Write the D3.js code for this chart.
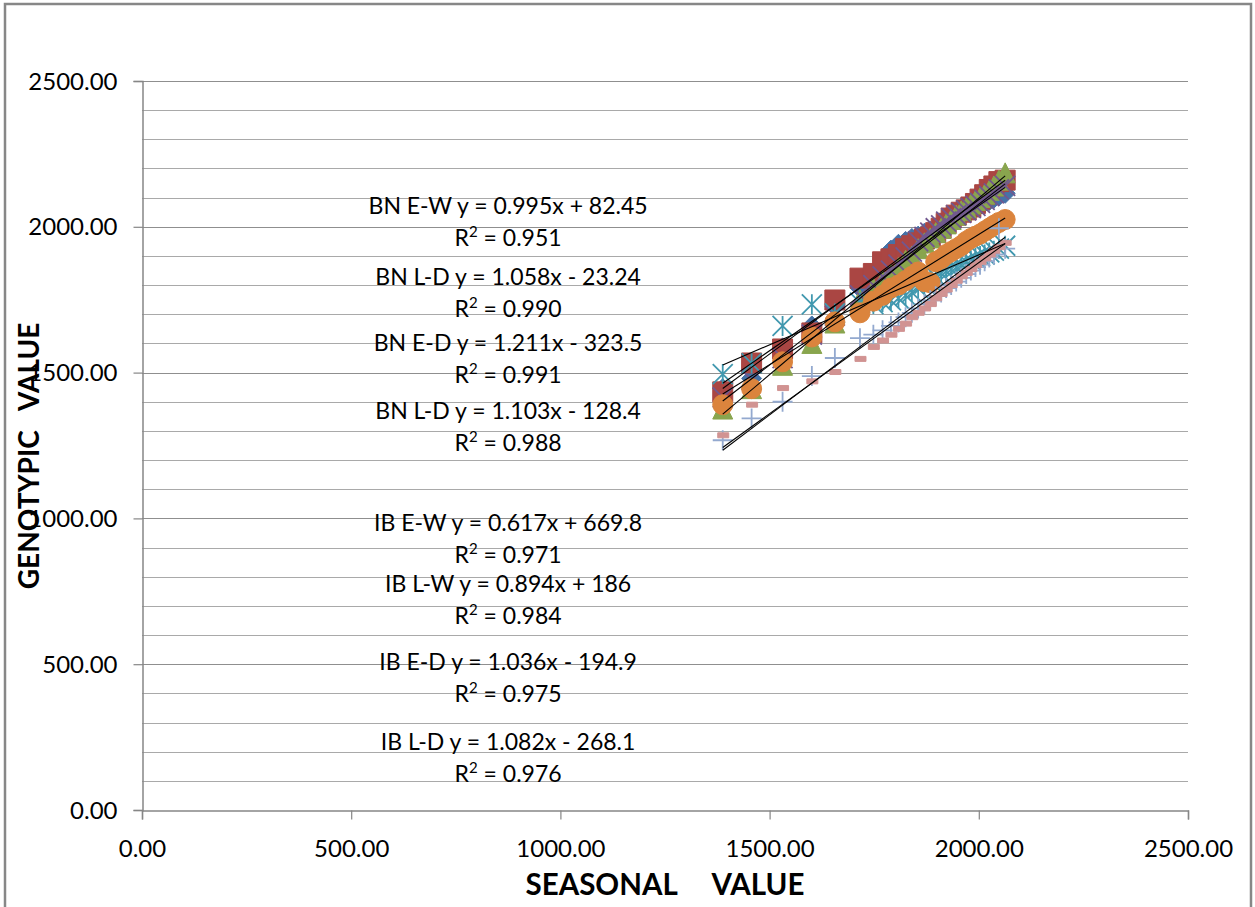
<!DOCTYPE html>
<html>
<head>
<meta charset="utf-8">
<script src="https://cdn.jsdelivr.net/npm/d3@7"></script>
<style>
  html, body { margin: 0; padding: 0; background: #fff; }
  svg { display: block; }
  text { font-family: Lato, "Open Sans", sans-serif; fill: #000; }
</style>
</head>
<body>
<svg id="chart" width="1255" height="907"></svg>
<script>
// Seasonal value (x) shared by every series
const seasonal = [1388, 1457, 1531, 1601, 1656, 1716, 1748, 1770, 1790, 1808, 1825, 1840, 1855, 1870, 1884,
                  1897, 1910, 1922, 1934, 1946, 1958, 1970, 1981, 1992, 2003, 2014, 2025, 2036, 2048, 2063];

// Genotypic values (y) per series
const bnEW  = [1445, 1480, 1585, 1660, 1735, 1790, 1830, 1870, 1920, 1940, 1950, 1960, 1968, 1978, 1985,
               1994, 2003, 2012, 2022, 2035, 2042, 2052, 2062, 2068, 2078, 2084, 2090, 2098, 2106, 2115];
const bnLD1 = [1434, 1533, 1581, 1636, 1749, 1824, 1840, 1880, 1890, 1905, 1925, 1935, 1945, 1958, 1965,
               1980, 1995, 2012, 2030, 2040, 2050, 2058, 2068, 2080, 2095, 2110, 2128, 2140, 2155, 2160];
const bnED  = [1375, 1445, 1525, 1600, 1670, 1750, 1790, 1815, 1838, 1860, 1885, 1900, 1925, 1945, 1962,
               1980, 1995, 2010, 2025, 2040, 2055, 2065, 2078, 2090, 2100, 2112, 2125, 2140, 2160, 2185];
const bnLD2 = [1415, 1475, 1550, 1630, 1695, 1765, 1800, 1830, 1850, 1870, 1895, 1915, 1950, 1965, 1980,
               1995, 2005, 2018, 2030, 2040, 2048, 2056, 2064, 2072, 2082, 2092, 2105, 2115, 2128, 2140];
const ibEW  = [1495, 1532, 1660, 1734, 1703, 1740, 1735, 1742, 1748, 1755, 1765, 1775, 1790, 1805, 1815,
               1830, 1840, 1848, 1855, 1862, 1870, 1880, 1885, 1893, 1900, 1905, 1912, 1918, 1925, 1935];
const ibLW  = [1390, 1445, 1537, 1622, 1674, 1705, 1745, 1765, 1790, 1800, 1815, 1830, 1845, 1812, 1808,
               1880, 1890, 1905, 1915, 1925, 1935, 1950, 1960, 1968, 1975, 1985, 1995, 2005, 2015, 2025];
const ibED  = [1268, 1343, 1400, 1488, 1550, 1618, 1630, 1645, 1660, 1672, 1690, 1705, 1720, 1735, 1748,
               1762, 1775, 1790, 1800, 1812, 1825, 1838, 1850, 1862, 1870, 1882, 1895, 1905, 1995, 1925];
const ibLD  = [1285, 1390, 1447, 1470, 1502, 1547, 1588, 1610, 1630, 1650, 1668, 1690, 1705, 1720, 1735,
               1755, 1770, 1785, 1800, 1815, 1830, 1842, 1855, 1868, 1880, 1892, 1905, 1918, 1930, 1945];

// Series names and linear trend fits
const seriesNames = ["BN E-W", "BN L-D", "BN E-D", "BN L-D", "IB E-W", "IB L-W", "IB E-D", "IB L-D"];
const slopes      = [0.995, 1.058, 1.211, 1.103, 0.617, 0.894, 1.036, 1.082];
const intercepts  = [82.45, -23.24, -323.5, -128.4, 669.8, 186, -194.9, -268.1];
const rSquared    = ["0.951", "0.990", "0.991", "0.988", "0.971", "0.984", "0.975", "0.976"];

// Axis ticks
const xTicks = [0, 500, 1000, 1500, 2000, 2500];
const yTicks = [0, 500, 1000, 1500, 2000, 2500];
const yMinor = d3.range(100, 2600, 100);

// Where each trend equation is written (data units)
const labelAnchorX = 875;
const labelAnchorY = [2044, 1800, 1574, 1341, 956, 749, 480, 206];

const seriesValues = [bnEW, bnLD1, bnED, bnLD2, ibEW, ibLW, ibED, ibLD];
const colors = ["#4572A7", "#AA4643", "#89A54E", "#71588F", "#4198AF", "#DB843D", "#93A9CF", "#D19392"];
const markers = ["diamond", "square", "triangle", "x", "star", "circle", "plus", "dash"];

const svg = d3.select("#chart");

// Chart frame
svg.append("rect").attr("x", 5).attr("y", 4).attr("width", 1246).attr("height", 920)
  .attr("fill", "#fff").attr("stroke", "#878787").attr("stroke-width", 2.5);

const x = d3.scaleLinear().domain([0, 2500]).range([142, 1188]);
const y = d3.scaleLinear().domain([0, 2500]).range([810, 81]);

// Horizontal gridlines
svg.append("g").selectAll("line").data(yMinor).join("line")
  .attr("x1", x(0)).attr("x2", x(2500))
  .attr("y1", d => Math.round(y(d)) + 0.5).attr("y2", d => Math.round(y(d)) + 0.5)
  .attr("stroke", d => d % 500 === 0 ? "#8f8f8f" : "#a9a9a9").attr("stroke-width", 1);

// Axes
const axisColor = "#868686";
const xAxis = svg.append("g").attr("transform", `translate(0,${Math.round(y(0)) + 0.5})`)
  .call(d3.axisBottom(x).tickValues(xTicks).tickSize(9).tickPadding(20).tickFormat(d3.format(".2f")));
const yAxis = svg.append("g").attr("transform", `translate(${Math.round(x(0)) + 0.5},0)`)
  .call(d3.axisLeft(y).tickValues(yTicks).tickSize(9).tickPadding(16).tickFormat(d3.format(".2f")));
[xAxis, yAxis].forEach(g => {
  g.select(".domain").attr("stroke", axisColor).attr("stroke-width", 1.5);
  g.selectAll(".tick line").attr("stroke", axisColor).attr("stroke-width", 1.2);
  g.selectAll(".tick text").attr("font-family", "Lato, sans-serif").attr("font-size", 24).attr("fill", "#000");
});
yAxis.selectAll(".tick text").attr("dy", "0.34em");

// Marker shapes (half size s)
const s = 10;
function markerPath(type) {
  switch (type) {
    case "diamond":  return `M0,${-s}L${s},0L0,${s}L${-s},0Z`;
    case "square":   return `M${-s},${-s}H${s}V${s}H${-s}Z`;
    case "triangle": return `M0,${-s}L${s},${s}L${-s},${s}Z`;
    case "x":        return `M${-s},${-s}L${s},${s}M${-s},${s}L${s},${-s}`;
    case "star":     return `M${-s},${-s}L${s},${s}M${-s},${s}L${s},${-s}M0,${-s}V${s}`;
    case "circle":   return d3.symbol(d3.symbolCircle, Math.PI * s * s)();
    case "plus":     return `M${-s},0H${s}M0,${-s}V${s}`;
    case "dash":     return `M-5,-2.5H6V2.5H-5Z`;
  }
}
const stroked = new Set(["x", "star", "plus"]);

const pts = svg.append("g");
seriesValues.forEach((vals, i) => {
  const type = markers[i];
  pts.append("g").selectAll("path").data(vals.map((v, j) => [seasonal[j], v])).join("path")
    .attr("transform", d => `translate(${x(d[0])},${y(d[1])})`)
    .attr("d", markerPath(type))
    .attr("fill", stroked.has(type) ? "none" : colors[i])
    .attr("stroke", colors[i])
    .attr("stroke-width", stroked.has(type) ? 1.8 : 1);
});

// Trend lines over the observed seasonal range
const xMin = d3.min(seasonal), xMax = d3.max(seasonal);
svg.append("g").selectAll("line").data(slopes).join("line")
  .attr("x1", x(xMin)).attr("x2", x(xMax))
  .attr("y1", (m, i) => y(m * xMin + intercepts[i]))
  .attr("y2", (m, i) => y(m * xMax + intercepts[i]))
  .attr("stroke", "#000").attr("stroke-width", 1.1);

// Trend equation labels
const fmtEq = (i) => {
  const b = intercepts[i];
  return `${seriesNames[i]} y = ${slopes[i]}x ${b < 0 ? "-" : "+"} ${Math.abs(b)}`;
};
const labels = svg.append("g").attr("font-size", 23).attr("text-anchor", "middle");
seriesNames.forEach((n, i) => {
  const t = labels.append("text").attr("x", x(labelAnchorX)).attr("y", y(labelAnchorY[i]));
  t.append("tspan").text(fmtEq(i));
  const r = t.append("tspan").attr("x", x(labelAnchorX)).attr("dy", 32);
  r.append("tspan").text("R");
  r.append("tspan").attr("font-size", 15).attr("dy", -9).text("2");
  r.append("tspan").attr("dy", 9).text(" = " + rSquared[i]);
});

// Axis titles
svg.append("text").attr("x", (x(0) + x(2500)) / 2).attr("y", 895)
  .attr("text-anchor", "middle").attr("font-weight", "bold").attr("font-size", 29.5)
  .style("white-space", "pre").text("SEASONAL     VALUE");
svg.append("text").attr("transform", `translate(39,456) rotate(-90)`)
  .attr("text-anchor", "middle").attr("font-weight", "bold").attr("font-size", 28)
  .style("white-space", "pre").text("GENOTYPIC   VALUE");
</script>
</body>
</html>
